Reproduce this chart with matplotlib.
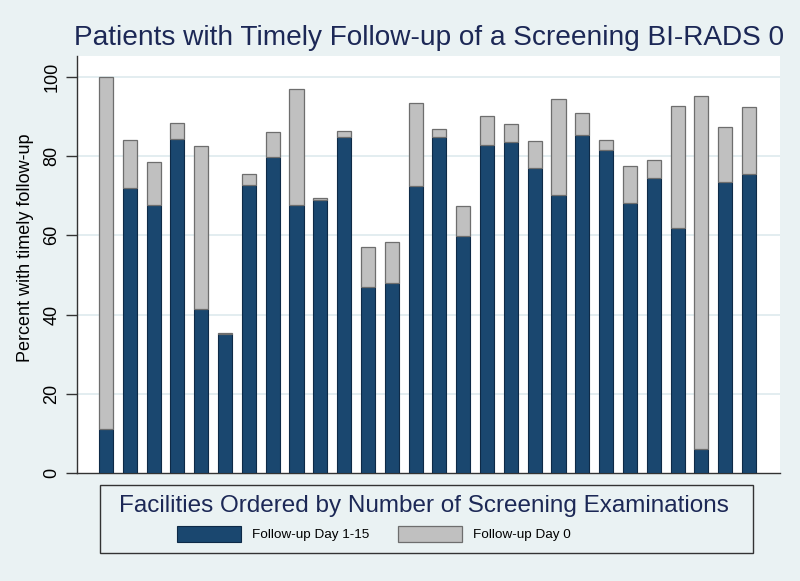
import matplotlib
matplotlib.use("Agg")
import matplotlib.pyplot as plt
from matplotlib.patches import Rectangle
import numpy as np

plt.rcParams['font.family'] = ['Liberation Sans', 'DejaVu Sans']

facilities = list(range(1, 29))
day1_15 = [11.1, 72.0, 67.6, 84.2, 41.3, 35.2, 72.6, 79.8, 67.6, 68.9, 84.7, 47.0, 48.0, 72.4,
           84.9, 59.9, 82.8, 83.6, 76.9, 70.2, 85.3, 81.6, 68.2, 74.4, 61.8, 6.0, 73.5, 75.5]
day0 = [88.9, 12.0, 10.9, 4.0, 41.3, 0.2, 2.8, 6.2, 29.4, 0.6, 1.6, 10.1, 10.4, 20.9,
        1.8, 7.5, 7.3, 4.4, 6.9, 24.2, 5.6, 2.4, 9.3, 4.7, 30.8, 89.2, 13.7, 16.8]
yticks = [0, 20, 40, 60, 80, 100]

title = "Patients with Timely Follow-up of a Screening BI-RADS 0"
ylabel = "Percent with timely follow-up"
legend_title = "Facilities Ordered by Number of Screening Examinations"
labels = ["Follow-up Day 1-15", "Follow-up Day 0"]

BG = "#EAF2F3"
NAVY = "#1A476F"
GRAY = "#C0C0C0"
TITLE_C = "#1C2856"

W, H = 800, 581
fig = plt.figure(figsize=(W / 100, H / 100), dpi=100, facecolor=BG)
ax = fig.add_axes([77 / W, 1 - 473.3 / H, (780 - 77) / W, (473.3 - 56) / H])
ax.set_facecolor("white")

x = np.array(facilities)
b1 = ax.bar(x, day1_15, width=0.59, color=NAVY, edgecolor="#0E2A47", linewidth=0.8, zorder=3)
b2 = ax.bar(x, day0, bottom=day1_15, width=0.59, color=GRAY, edgecolor="#6E6E6E",
            linewidth=0.9, zorder=3)

ax.set_xlim(-0.218, 29.302)
ax.set_ylim(0, 105.2)
ax.set_xticks([])
ax.set_yticks(yticks)
ax.set_yticklabels([str(t) for t in yticks], rotation=90, va="center", fontsize=13)
ax.tick_params(axis="y", length=8, width=1, color="#333333", pad=4)
for t in yticks[1:]:
    ax.axhline(t, color="#E1ECEF", linewidth=1.3, zorder=1)

for s in ["top", "right"]:
    ax.spines[s].set_visible(False)
ax.spines["left"].set_color("#333333")
ax.spines["bottom"].set_color("#333333")
ax.spines["left"].set_linewidth(1.0)
ax.spines["bottom"].set_linewidth(1.0)

fig.text(26 / W, 1 - 248 / H, ylabel, rotation=90, ha="center", va="center", fontsize=13)

fig.text(429 / W, 1 - 38 / H, title, ha="center", va="center", fontsize=20.2, color=TITLE_C)

# legend box
fig.patches.append(Rectangle((100 / W, 1 - 553 / H), (753 - 100) / W, (553 - 485) / H,
                             transform=fig.transFigure, facecolor=BG, edgecolor="#333333",
                             linewidth=1.0, zorder=0))
fig.text(423.5 / W, 1 - 506 / H, legend_title, ha="center", va="center", fontsize=17.5,
         color=TITLE_C)
fs = 9.7
pxe = fs * 100 / 72
leg = fig.legend([b1, b2], labels, ncol=2, frameon=False, loc="center left",
                 bbox_to_anchor=(177 / W, 1 - 534 / H), borderpad=0, borderaxespad=0,
                 fontsize=fs, handlelength=64 / pxe, handleheight=20 / pxe,
                 handletextpad=11 / pxe, columnspacing=29 / pxe)

fig.savefig("out.png", dpi=100, facecolor=BG)
